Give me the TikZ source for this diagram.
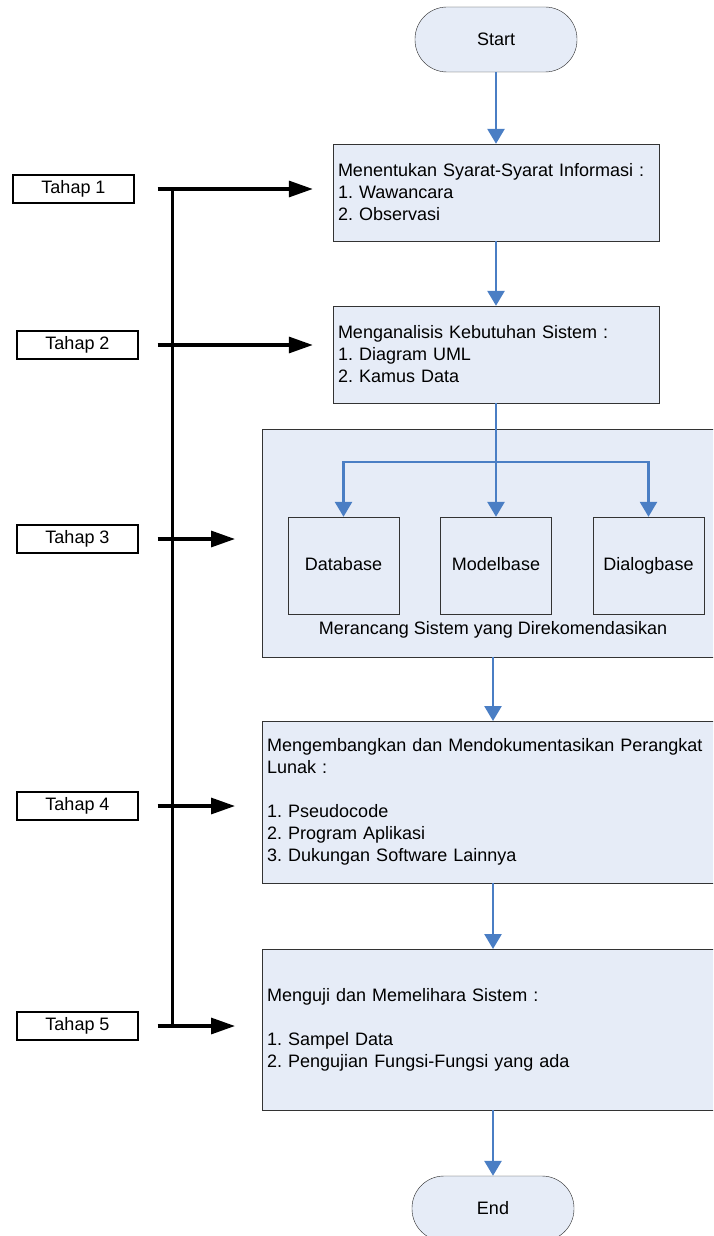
\documentclass[tikz,border=0pt]{standalone}
\usepackage{fontspec}
\setmainfont{Liberation Sans}
\usetikzlibrary{arrows.meta}
\definecolor{boxfill}{RGB}{230,236,247}
\definecolor{flowblue}{RGB}{74,126,196}
\frenchspacing

\begin{document}
\begin{tikzpicture}[x=1pt,y=1pt,
  every node/.style={font=\fontsize{18}{22}\selectfont},
  term/.style={draw=black!85,fill=boxfill,rounded corners=32pt,minimum width=162pt,minimum height=65pt},
  stage/.style={draw=black!80,fill=boxfill,inner xsep=5pt,align=left},
  part/.style={draw=black!80,fill=boxfill,minimum width=111pt,minimum height=97pt,text height=13pt,text depth=4pt},
  tahap/.style={draw,line width=1.2pt,minimum width=121pt,minimum height=28pt},
  flow/.style={flowblue,line width=2.7pt,-{Triangle[length=15pt,width=17pt]}},
  feed/.style={line width=3.2pt,-{Triangle[length=24pt,width=16pt]}}]
                \useasboundingbox (0,0) rectangle (713,-1236);
                \clip (0,0) rectangle (713,-1236);
                \node [term] (start) at (496,-39.5) {Start};
                \node [stage,text width=316pt,minimum height=97pt] (s1) at (496,-192.5) {Menentukan Syarat-Syarat Informasi :\\1. Wawancara\\2. Observasi};
                \node [stage,text width=316pt,minimum height=97pt] (s2) at (496,-354.5) {Menganalisis Kebutuhan Sistem :\\1. Diagram UML\\2. Kamus Data};
                \node [stage,anchor=north west,minimum width=530pt,minimum height=228pt] (s3) at (262,-429) {};
                \node [part] (db) at (343.5,-565.5) {Database};
                \node [part] (mb) at (496,-565.5) {Modelbase};
                \node [part] (dl) at (648.5,-565.5) {Dialogbase};
                \node (s3label) at (493,-630) {Merancang Sistem yang Direkomendasikan};
                \node [stage,anchor=north west,text width=520pt,minimum height=162pt] (s4) at (262,-721) {Mengembangkan dan Mendokumentasikan Perangkat\\Lunak :\\[22pt]1. Pseudocode\\2. Program Aplikasi\\3. Dukungan Software Lainnya};
                \node [stage,anchor=north west,text width=520pt,minimum height=161pt] (s5) at (262,-949) {Menguji dan Memelihara Sistem :\\[22pt]1. Sampel Data\\2. Pengujian Fungsi-Fungsi yang ada};
                \node [term] (end) at (493,-1208.5) {End};
                \node [tahap] (t1) at (73.5,-189) {Tahap 1};
                \node [tahap] (t2) at (77.5,-345) {Tahap 2};
                \node [tahap] (t3) at (77.5,-539) {Tahap 3};
                \node [tahap] (t4) at (77.5,-806) {Tahap 4};
                \node [tahap] (t5) at (77.5,-1026) {Tahap 5};
                \coordinate (split) at (496,-462);
                \draw [flow] (start) -- (s1);
                \draw [flow] (s1) -- (s2);
                \draw [flow] (s2.south) -- (mb.north);
                \draw [flow] (split) -| (db.north);
                \draw [flow] (split) -| (dl.north);
                \draw [flow] (s3.south -| end) -- (s4.north -| end);
                \draw [flow] (s4.south -| end) -- (s5.north -| end);
                \draw [flow] (s5.south -| end) -- (end);
                \draw [line width=3.2pt] ([xshift=38pt]t1.east) -- ([xshift=34pt]t5.east);
                \draw [feed,shorten <=23pt,shorten >=20pt] (t1.east) -- (t1.east -| s1.west);
                \draw [feed,shorten <=19pt,shorten >=20pt] (t2.east) -- (t2.east -| s2.west);
                \draw [feed,shorten <=19pt,shorten >=27pt] (t3.east) -- (t3.east -| s3.west);
                \draw [feed,shorten <=19pt,shorten >=27pt] (t4.east) -- (t4.east -| s4.west);
                \draw [feed,shorten <=19pt,shorten >=27pt] (t5.east) -- (t5.east -| s5.west);
\end{tikzpicture}
\end{document}
